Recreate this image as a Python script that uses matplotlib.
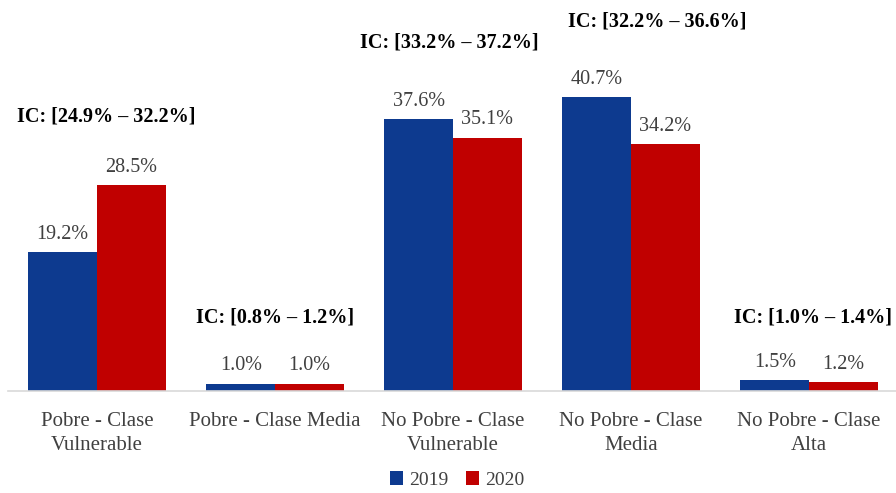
import matplotlib
matplotlib.use("Agg")
import matplotlib.pyplot as plt
import numpy as np

categories = ["Pobre - Clase\nVulnerable", "Pobre - Clase Media", "No Pobre - Clase\nVulnerable",
              "No Pobre - Clase\nMedia", "No Pobre - Clase\nAlta"]
v2019 = [19.2, 1.0, 37.6, 40.7, 1.5]
v2020 = [28.5, 1.0, 35.1, 34.2, 1.2]
ic_labels = ["IC: [24.9% – 32.2%]", "IC: [0.8% – 1.2%]", "IC: [33.2% – 37.2%]",
             "IC: [32.2% – 36.6%]", "IC: [1.0% – 1.4%]"]
ic_y = [38.0, 10.2, 48.3, 51.2, 10.2]
ic_dx = [0.05, 0.0, -0.02, 0.15, 0.02]

plt.rcParams['font.family'] = ['Liberation Serif', 'DejaVu Serif']

fig = plt.figure(figsize=(8.96, 4.93), dpi=100)
ax = fig.add_axes([8/896, 102/493, 890/896, 325/493])

x = np.arange(len(categories))
w = 0.385
blue = "#0D3A8F"
red = "#C00000"
b1 = ax.bar(x - w/2, v2019, w, color=blue, label="2019")
b2 = ax.bar(x + w/2, v2020, w, color=red, label="2020")

# value labels above bars
for bars, vals in ((b1, v2019), (b2, v2020)):
    for rect, v in zip(bars, vals):
        ax.annotate(f"{v:.1f}%", (rect.get_x() + rect.get_width()/2, v),
                    xytext=(0, 6), textcoords="offset points",
                    ha="center", va="bottom", fontsize=14.5, color="#404040")

# confidence interval notes
for i, lab in enumerate(ic_labels):
    ax.text(x[i] + ic_dx[i], ic_y[i], lab, ha="center", va="center",
            fontsize=14.5, fontweight="bold", color="black", clip_on=False)

ax.set_xlim(-0.5, 4.5)
ax.set_ylim(0, 45)
ax.set_xticks(x)
ax.set_xticklabels(categories, fontsize=15, color="#404040", linespacing=1.4)
ax.tick_params(axis="x", length=0, pad=15)
ax.set_yticks([])
for s in ["top", "right", "left"]:
    ax.spines[s].set_visible(False)
ax.spines["bottom"].set_color("#D9D9D9")
ax.spines["bottom"].set_linewidth(1.2)

fig.legend(handles=[b1, b2], loc="center", bbox_to_anchor=(457/896, 1 - 480/493),
           ncol=2, frameon=False, fontsize=14, handlelength=0.7, handleheight=0.7,
           handletextpad=0.3, columnspacing=0.9, labelcolor="#404040",
           borderpad=0.1)

fig.savefig("out.png", dpi=100)
